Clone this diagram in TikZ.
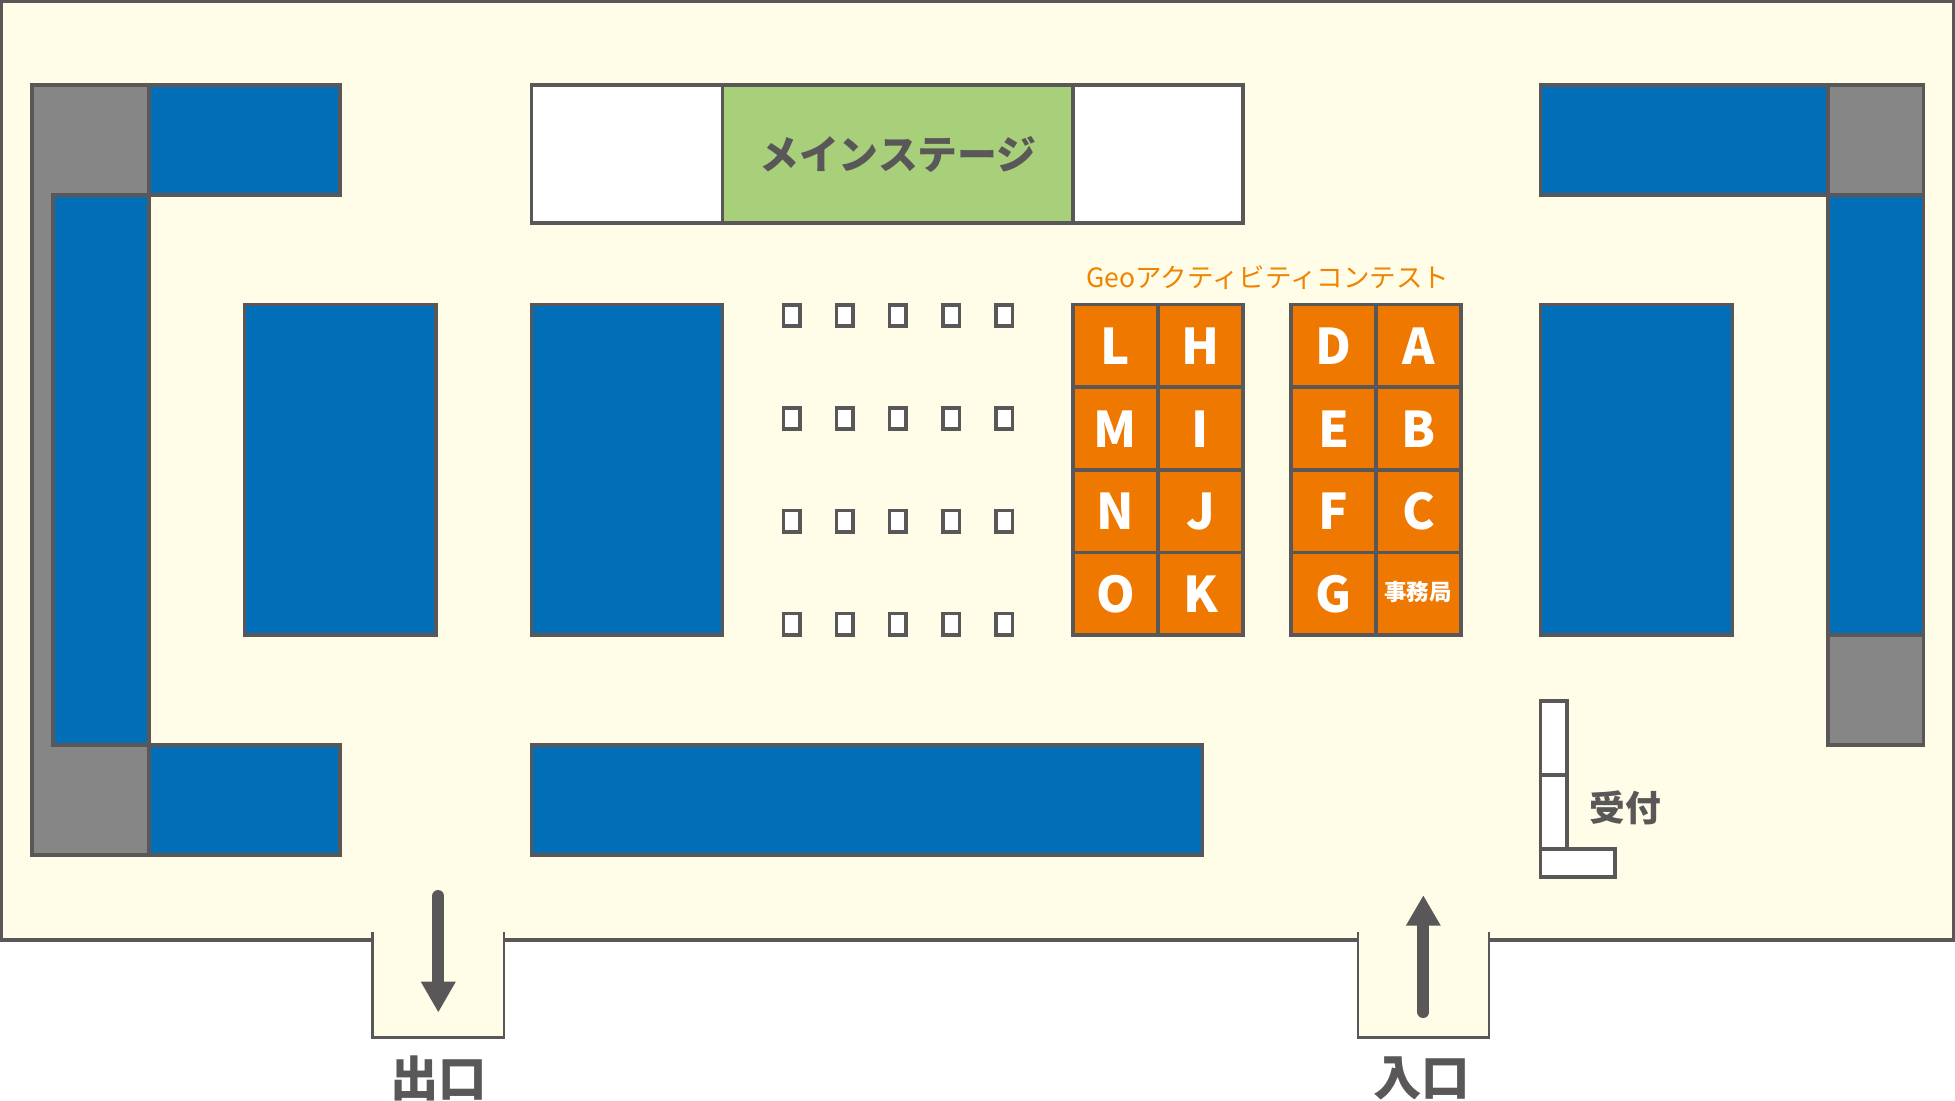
\documentclass[tikz,border=0pt]{standalone}
\usepackage{fontspec}
\newfontfamily\jpheavy{Noto Sans CJK JP Black}
\newfontfamily\jpregular{Noto Sans CJK JP}
\definecolor{cream}{HTML}{FFFDE8}
\definecolor{booth}{HTML}{036EB8}
\definecolor{wallgray}{HTML}{868686}
\definecolor{contest}{HTML}{EE7800}
\definecolor{stage}{HTML}{A8D07A}
\definecolor{ink}{HTML}{595757}
\definecolor{titleorange}{HTML}{F08300}
\tikzset{
  x=0.02cm,y=-0.02cm,
  wall/.style={draw=ink,line width=0.072cm,line join=miter},
  bluebox/.style={wall,fill=booth},
  graybox/.style={wall,fill=wallgray},
  whitebox/.style={wall,fill=white},
  orangebox/.style={wall,fill=contest},
  letter/.style={text=white,font=\jpheavy\fontsize{28pt}{28pt}\selectfont,inner sep=0pt},
  darklabel/.style={text=ink,font=\jpheavy\fontsize{#1}{#1}\selectfont,inner sep=0pt},
  flow/.style={draw=ink,line width=0.24cm,line cap=round}
}
\begin{document}
\begin{tikzpicture}
\useasboundingbox (0,0) rectangle (1955,1100);
% hall floor
\fill[cream] (1.7,1.7) rectangle (1953.3,940);
\fill[cream] (372.5,930) rectangle (504,1037.7);
\fill[cream] (1358,930) rectangle (1489,1037.7);
\draw[wall,line width=0.07cm] (372.5,940) -- (1.7,940) -- (1.7,1.7) -- (1953.3,1.7) -- (1953.3,940) -- (1489,940);
\draw[wall,line width=0.07cm] (504,940) -- (1358,940);
\draw[wall,line width=0.056cm] (372.5,932) -- (372.5,1037.7) -- (504,1037.7) -- (504,932);
\draw[wall,line width=0.056cm] (1358,932) -- (1358,1037.7) -- (1489,1037.7) -- (1489,932);
% left wall
\draw[graybox] (32,85) -- (149,85) -- (149,195) -- (53,195) -- (53,745) -- (149,745) -- (149,855) -- (32,855) -- cycle;
\draw[bluebox] (149,85) rectangle (340,195);
\draw[bluebox] (53,195) rectangle (149,745);
\draw[bluebox] (149,745) rectangle (340,855);
% right wall
\draw[bluebox] (1540.5,85) rectangle (1828,195);
\draw[graybox] (1828,85) rectangle (1923.5,195);
\draw[bluebox] (1828,195) rectangle (1923.5,635);
\draw[graybox] (1828,635) rectangle (1923.5,745);
% central booths
\draw[bluebox] (244.5,304.5) rectangle (436,635);
\draw[bluebox] (531.5,304.5) rectangle (722.5,635);
\draw[bluebox] (1540.5,304.5) rectangle (1732.5,635);
\draw[bluebox] (531.5,745) rectangle (1202.5,855);
% stage
\draw[whitebox] (531.5,85) rectangle (1243,223);
\draw[wall,fill=stage] (722.5,85) rectangle (1073,223);
\node[darklabel=22.7pt] (stagelabel) at (898,154.5) {メインステージ};
% chairs
\foreach \cx in {791.7,844.8,897.9,951,1004.1}
  \foreach \cy in {315.4,418.4,521,624}
    \draw[whitebox] (\cx-8.3,\cy-10.7) rectangle (\cx+8.3,\cy+10.7);
% contest
\node[text=titleorange,font=\jpregular\fontsize{15.1pt}{15.1pt}\selectfont,inner sep=0pt] (contesttitle) at (1268,277.5) {Geoアクティビティコンテスト};
\foreach \col/\x/\xx/\a/\b/\c/\d/\nm in {1/1073/1158/L/M/N/O/ll,2/1158/1243/H/I/J/K/lr,3/1291/1376/D/E/F/G/rl}{
  \draw[orangebox] (\x,304.5) rectangle (\xx,387);
  \draw[orangebox] (\x,387) rectangle (\xx,470);
  \draw[orangebox] (\x,470) rectangle (\xx,552.5);
  \draw[orangebox] (\x,552.5) rectangle (\xx,635);
  \node[letter] (\nm1) at ({(\x+\xx)/2},346.5) {\a};
  \node[letter] (\nm2) at ({(\x+\xx)/2},429) {\b};
  \node[letter] (\nm3) at ({(\x+\xx)/2},511.5) {\c};
  \node[letter] (\nm4) at ({(\x+\xx)/2},594) {\d};
}
\draw[orangebox] (1376,304.5) rectangle (1461,387);
\draw[orangebox] (1376,387) rectangle (1461,470);
\draw[orangebox] (1376,470) rectangle (1461,552.5);
\draw[orangebox] (1376,552.5) rectangle (1461,635);
\node[letter] (rr1) at (1418.5,346.5) {A};
\node[letter] (rr2) at (1418.5,429) {B};
\node[letter] (rr3) at (1418.5,511.5) {C};
\node[text=white,font=\jpheavy\fontsize{12.8pt}{12.8pt}\selectfont,inner sep=0pt] (office) at (1418,591.7) {事務局};
% reception
\draw[whitebox] (1540.3,700.7) rectangle (1567,774.7);
\draw[whitebox] (1540.3,774.7) rectangle (1567,849);
\draw[whitebox] (1540.3,849) rectangle (1615,876.7);
\node[darklabel=20.3pt] (reception) at (1625,808) {受付};
% exit and entrance
\coordinate (exittop) at (438.3,896);
\coordinate (exitbase) at (438.3,985);
\draw[flow] (exittop) -- (exitbase);
\fill[ink] (420.8,981.7) -- (455.8,981.7) -- (438.3,1012) -- cycle;
\coordinate (entrybottom) at (1423.3,1012);
\coordinate (entrybase) at (1423.3,922);
\draw[flow] (entrybottom) -- (entrybase);
\fill[ink] (1405.8,925.7) -- (1440.8,925.7) -- (1423.3,895.7) -- cycle;
\node[darklabel=27.5pt] (exitlabel) at (438.5,1078) {出口};
\node[darklabel=27.5pt] (entrylabel) at (1421.5,1078) {入口};
\end{tikzpicture}
\end{document}
